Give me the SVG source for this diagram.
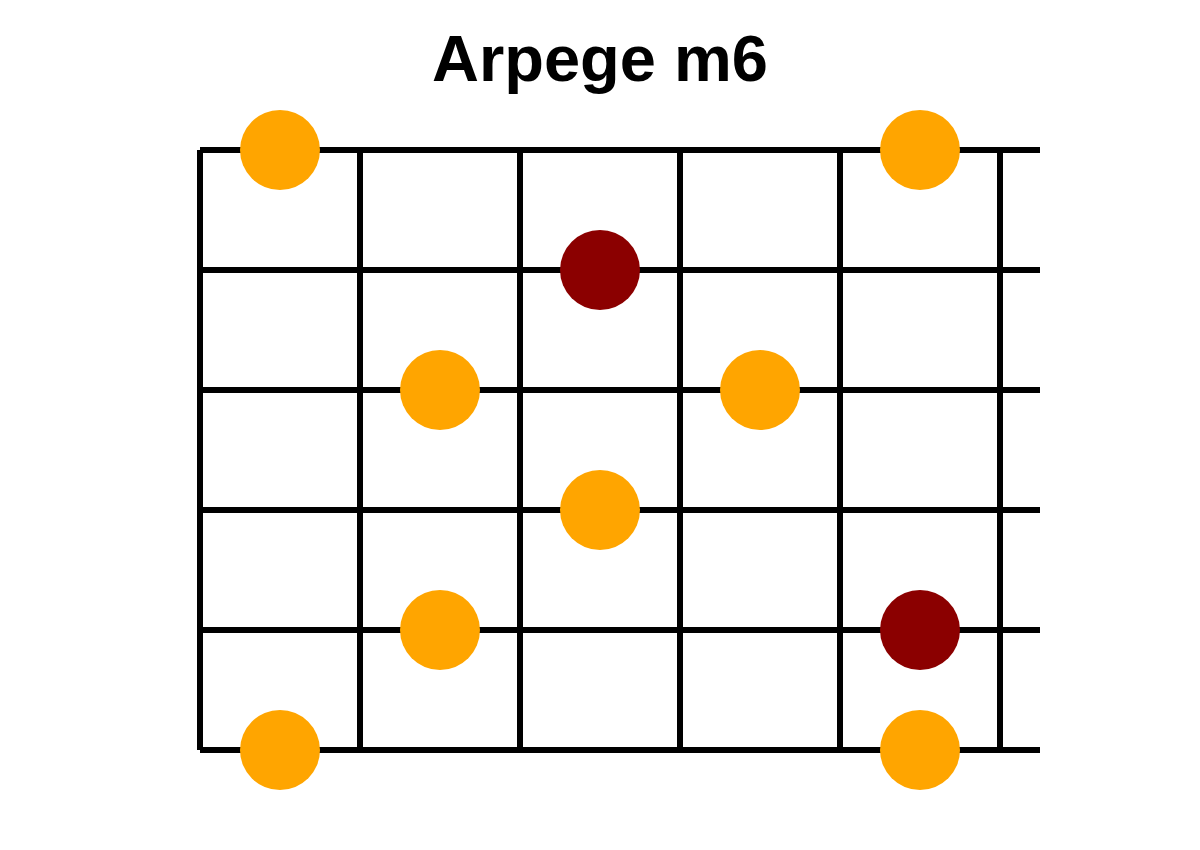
<svg xmlns="http://www.w3.org/2000/svg" width="1200" height="850" viewBox="0 0 1200 850">
<style>
.g line{stroke:#000;stroke-width:6;stroke-linecap:butt}
.o{fill:#FFA500}
.r{fill:#8B0000}
.t{font-family:"Liberation Sans",Arial,sans-serif;font-weight:bold;font-size:65px;fill:#000}
</style>
<rect width="1200" height="850" fill="#fff"/>
<text class="t" x="600" y="81" text-anchor="middle">Arpege m6</text>
<g id="connectors" class="g">
<line x1="200" y1="150" x2="1040" y2="150"/>
<line x1="200" y1="270" x2="1040" y2="270"/>
<line x1="200" y1="390" x2="1040" y2="390"/>
<line x1="200" y1="510" x2="1040" y2="510"/>
<line x1="200" y1="630" x2="1040" y2="630"/>
<line x1="200" y1="750" x2="1040" y2="750"/>
<line x1="200" y1="150" x2="200" y2="750"/>
<line x1="360" y1="150" x2="360" y2="750"/>
<line x1="520" y1="150" x2="520" y2="750"/>
<line x1="680" y1="150" x2="680" y2="750"/>
<line x1="840" y1="150" x2="840" y2="750"/>
<line x1="1000" y1="150" x2="1000" y2="750"/>
</g>
<g id="n1"><circle class="o" cx="280" cy="150" r="40"/></g>
<g id="n2"><circle class="o" cx="920" cy="150" r="40"/></g>
<g id="n3"><circle class="r" cx="600" cy="270" r="40"/></g>
<g id="n4"><circle class="o" cx="440" cy="390" r="40"/></g>
<g id="n5"><circle class="o" cx="760" cy="390" r="40"/></g>
<g id="n6"><circle class="o" cx="600" cy="510" r="40"/></g>
<g id="n7"><circle class="o" cx="440" cy="630" r="40"/></g>
<g id="n8"><circle class="r" cx="920" cy="630" r="40"/></g>
<g id="n9"><circle class="o" cx="280" cy="750" r="40"/></g>
<g id="n10"><circle class="o" cx="920" cy="750" r="40"/></g>
</svg>
